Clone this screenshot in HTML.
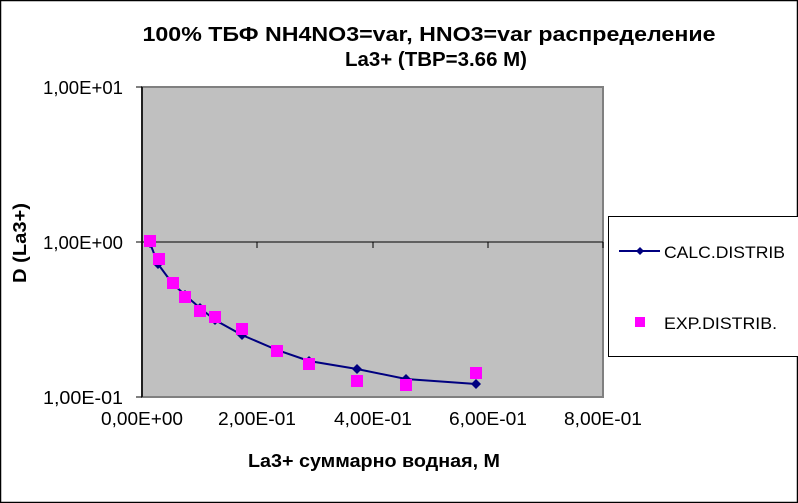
<!DOCTYPE html>
<html><head><meta charset="utf-8"><style>
html,body{margin:0;padding:0;background:#fff}
svg{display:block}
text{font-family:"Liberation Sans","DejaVu Sans",sans-serif;fill:#000}
</style></head><body>
<svg width="798" height="503" viewBox="0 0 798 503" xmlns="http://www.w3.org/2000/svg">
<rect x="0.5" y="0.5" width="797" height="502" fill="#fff" stroke="#000" stroke-width="1.5"/>
<text x="429" y="41" font-size="20" font-weight="bold" text-anchor="middle" textLength="573" lengthAdjust="spacingAndGlyphs">100%  ТБФ  NH4NO3=var, HNO3=var распределение</text>
<text x="436" y="66" font-size="20" font-weight="bold" text-anchor="middle" textLength="182" lengthAdjust="spacingAndGlyphs">La3+ (TBP=3.66 M)</text>
<rect x="142" y="87" width="461" height="310" fill="#c0c0c0" stroke="#808080" stroke-width="2"/>
<line x1="142" y1="242" x2="603" y2="242" stroke="#000" stroke-width="1"/>
<line x1="142" y1="87" x2="142" y2="397" stroke="#000" stroke-width="1.5"/>
<line x1="136" y1="87" x2="142" y2="87" stroke="#000"/>
<line x1="136" y1="242" x2="142" y2="242" stroke="#000"/>
<line x1="136" y1="397" x2="142" y2="397" stroke="#000"/>
<line x1="257" y1="242" x2="257" y2="248" stroke="#000"/>
<line x1="373" y1="242" x2="373" y2="248" stroke="#000"/>
<line x1="488" y1="242" x2="488" y2="248" stroke="#000"/>
<line x1="603" y1="242" x2="603" y2="248" stroke="#000"/>
<g font-size="18" text-anchor="end">
<text x="123" y="94" textLength="80" lengthAdjust="spacingAndGlyphs">1,00E+01</text>
<text x="123" y="249" textLength="80" lengthAdjust="spacingAndGlyphs">1,00E+00</text>
<text x="123" y="404" textLength="80" lengthAdjust="spacingAndGlyphs">1,00E-01</text>
</g>
<g font-size="18" text-anchor="middle">
<text x="142" y="425" textLength="82" lengthAdjust="spacingAndGlyphs">0,00E+00</text>
<text x="257" y="425" textLength="78" lengthAdjust="spacingAndGlyphs">2,00E-01</text>
<text x="373" y="425" textLength="78" lengthAdjust="spacingAndGlyphs">4,00E-01</text>
<text x="488" y="425" textLength="78" lengthAdjust="spacingAndGlyphs">6,00E-01</text>
<text x="603" y="425" textLength="78" lengthAdjust="spacingAndGlyphs">8,00E-01</text>
</g>
<text x="374" y="467" font-size="18" font-weight="bold" text-anchor="middle" textLength="252" lengthAdjust="spacingAndGlyphs">La3+ суммарно  водная, M</text>
<text transform="translate(26,243) rotate(-90)" font-size="18" font-weight="bold" text-anchor="middle" textLength="80" lengthAdjust="spacingAndGlyphs">D (La3+)</text>
<polyline fill="none" stroke="#000080" stroke-width="2" points="150,243 158,264 172,283 185,295 200,308 215,320 242,335 277,350 309,361 357,369 406,379 476,384"/>
<g fill="#000080">
<path d="M150,238 l5,5 l-5,5 l-5,-5z"/>
<path d="M158,259 l5,5 l-5,5 l-5,-5z"/>
<path d="M172,278 l5,5 l-5,5 l-5,-5z"/>
<path d="M185,290 l5,5 l-5,5 l-5,-5z"/>
<path d="M200,303 l5,5 l-5,5 l-5,-5z"/>
<path d="M215,315 l5,5 l-5,5 l-5,-5z"/>
<path d="M242,330 l5,5 l-5,5 l-5,-5z"/>
<path d="M277,345 l5,5 l-5,5 l-5,-5z"/>
<path d="M309,356 l5,5 l-5,5 l-5,-5z"/>
<path d="M357,364 l5,5 l-5,5 l-5,-5z"/>
<path d="M406,374 l5,5 l-5,5 l-5,-5z"/>
<path d="M476,379 l5,5 l-5,5 l-5,-5z"/>
</g>
<g fill="#ff00ff">
<rect x="144" y="235" width="12" height="12"/>
<rect x="153" y="253" width="12" height="12"/>
<rect x="167" y="277" width="12" height="12"/>
<rect x="179" y="291" width="12" height="12"/>
<rect x="194" y="305" width="12" height="12"/>
<rect x="209" y="311" width="12" height="12"/>
<rect x="236" y="323" width="12" height="12"/>
<rect x="271" y="345" width="12" height="12"/>
<rect x="303" y="358" width="12" height="12"/>
<rect x="351" y="375" width="12" height="12"/>
<rect x="400" y="379" width="12" height="12"/>
<rect x="470" y="367" width="12" height="12"/>
</g>
<rect x="608.5" y="216.5" width="190" height="140" fill="#fff" stroke="#000" stroke-width="1"/>
<line x1="619" y1="251" x2="660" y2="251" stroke="#000080" stroke-width="2"/>
<path d="M640,247 l4,4 l-4,4 l-4,-4z" fill="#000080"/>
<text x="664" y="258" font-size="17" textLength="121" lengthAdjust="spacingAndGlyphs">CALC.DISTRIB</text>
<rect x="635" y="317" width="10" height="10" fill="#ff00ff"/>
<text x="664" y="329" font-size="17" textLength="113" lengthAdjust="spacingAndGlyphs">EXP.DISTRIB.</text>
</svg>
</body></html>
